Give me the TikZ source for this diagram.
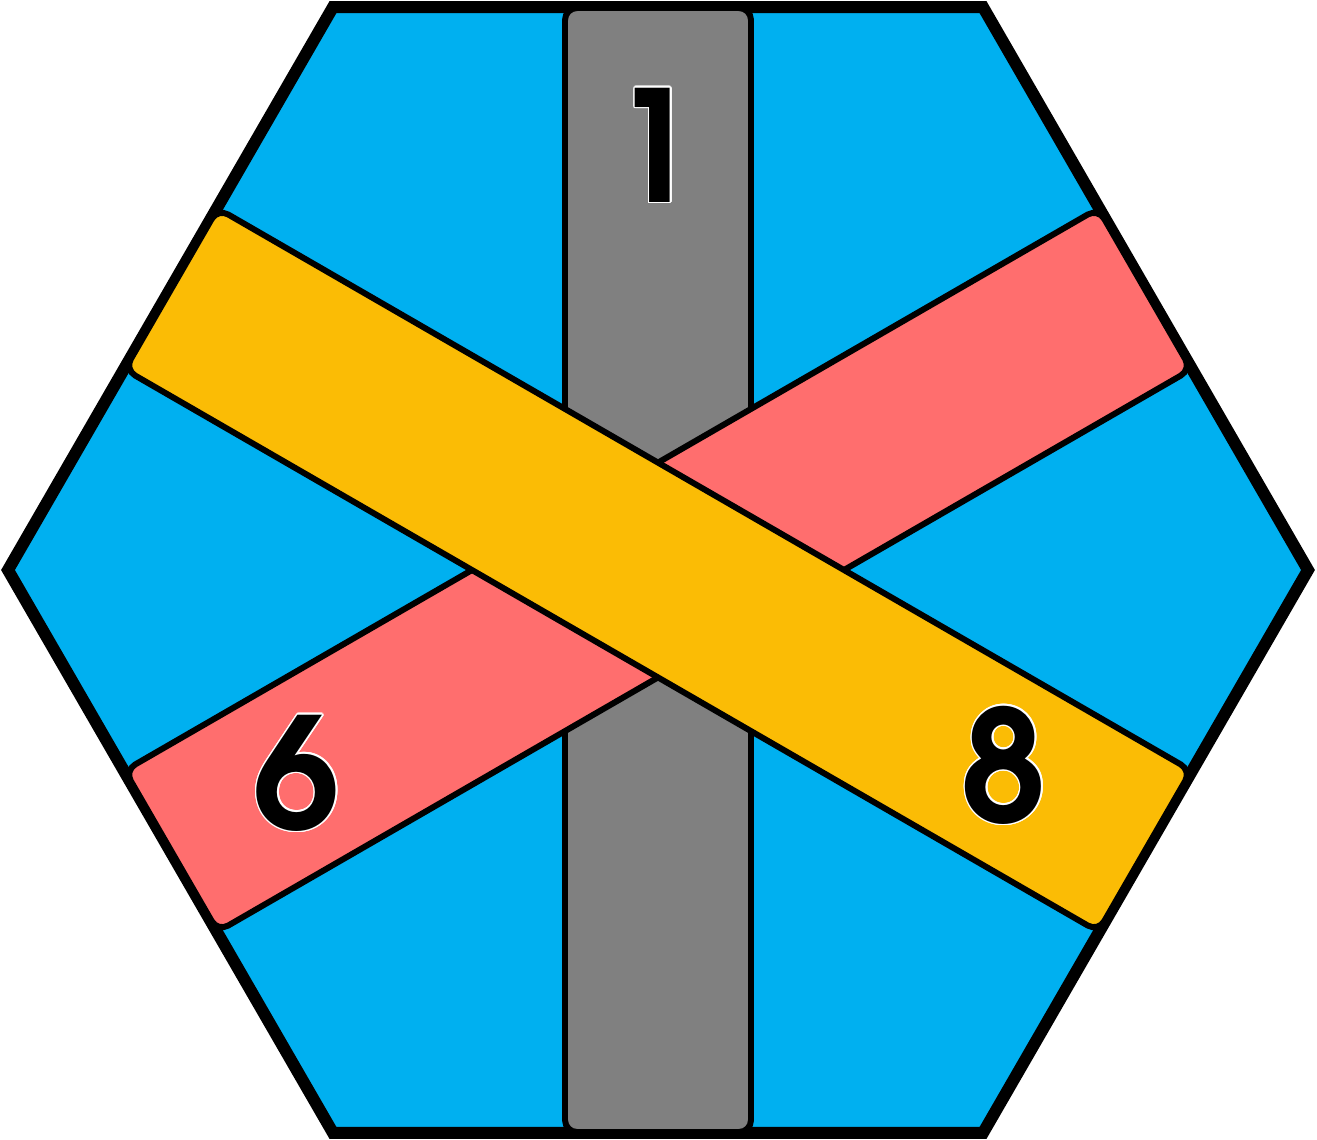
\documentclass[tikz,border=0pt]{standalone}
\usepackage{fontspec}
\usepackage{xcolor}
\usepackage{contour}
\usepackage{tikz}
\newfontfamily\numfont{TeX Gyre Adventor}
\contourlength{0.45pt}
\definecolor{tileblue}{RGB}{0,176,240}
\definecolor{bargray}{RGB}{128,128,128}
\definecolor{barred}{RGB}{255,110,110}
\definecolor{baryellow}{RGB}{251,188,5}

\begin{document}
\begin{tikzpicture}[
  hexa/.style={draw=black, fill=tileblue, line width=3.4pt, line join=miter},
  bar/.style={draw=black, line width=1.7pt, rounded corners=0.12cm},
  num/.style={inner sep=0pt, font=\numfont\bfseries\fontsize{44}{44}\selectfont},
]
\useasboundingbox (-6.58,-5.69) rectangle (6.59,5.70);

% Tile
\draw[hexa] (0:6.5) -- (60:6.5) -- (120:6.5) -- (180:6.5)
  -- (240:6.5) -- (300:6.5) -- cycle;

% Bars
\draw[bar, fill=bargray, rotate=90] (-5.62,-0.93) rectangle (5.62,0.93);
\draw[bar, fill=barred, rotate=30] (-5.62,-0.93) rectangle (5.62,0.93);
\draw[bar, fill=baryellow, rotate=-30] (-5.62,-0.93) rectangle (5.62,0.93);

% Numbers
\node[num] (one) at (-0.03,4.24) {\contour{white}{1}};
\node[num] (six) at (-3.61,-2.04) {\contour{white}{6}};
\node[num] (eight) at (3.46,-1.96) {\contour{white}{8}};

\end{tikzpicture}
\end{document}
